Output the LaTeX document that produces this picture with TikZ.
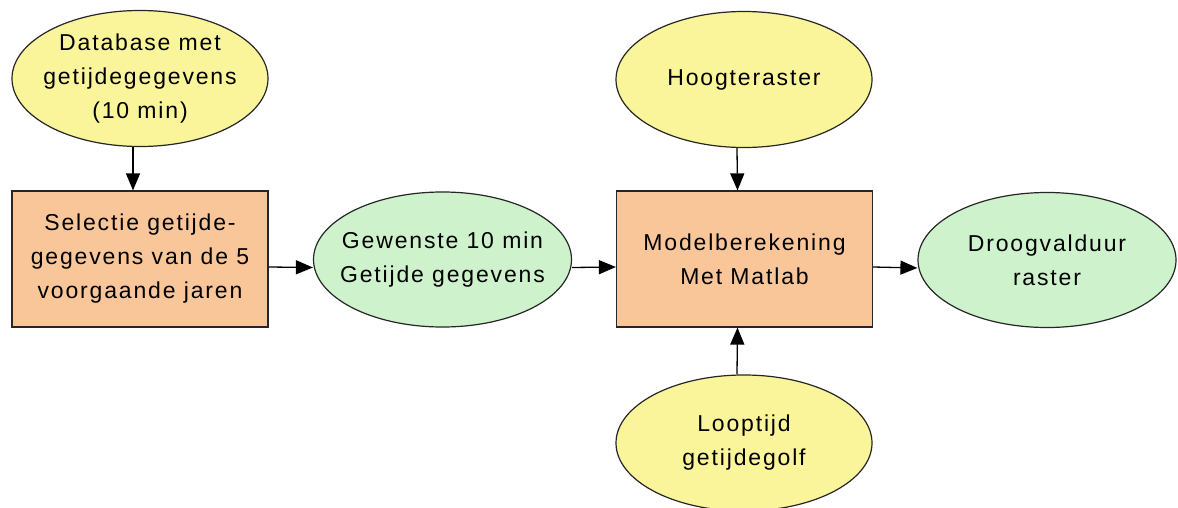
\documentclass[tikz,border=0pt]{standalone}
\usepackage{fontspec}
\setmainfont{Liberation Sans}[LetterSpace=8]
\usetikzlibrary{shapes.geometric,arrows.meta}
\definecolor{inyellow}{HTML}{FAF59A}
\definecolor{procpeach}{HTML}{F9C699}
\definecolor{outgreen}{HTML}{CDF2CC}
\tikzset{
  base/.style={draw=black!85, line width=1.2pt, align=center,
    font=\fontsize{23}{34}\selectfont, text=black},
  % negative inner sep keeps the ellipses at their fixed size around wide text
  inputdata/.style={base, ellipse, inner sep=-40pt, fill=inyellow, minimum width=256pt, minimum height=136pt},
  outdata/.style={base, ellipse, inner sep=-40pt, fill=outgreen, minimum width=258pt, minimum height=135pt},
  process/.style={base, rectangle, inner sep=0pt, fill=procpeach, minimum width=256pt, minimum height=136pt},
  flow/.style={draw=black, line width=1.3pt, -{Triangle[length=17pt,width=14pt]}}
}
\begin{document}
\begin{tikzpicture}[x=1pt,y=-1pt]
\useasboundingbox[fill=white] (0,0) rectangle (1178,508);

% inputs, processing steps and results
\node[inputdata] (db) at (140,78.5) {Database met\\getijdegegevens\\(10 min)};
\node[process] (sel) at (140,259) {Selectie getijde-\\gegevens van de 5\\voorgaande jaren};
\node[outdata] (gew) at (442.5,259.5) {Gewenste 10 min\\Getijde gegevens};
\node[process] (model) at (744.5,259) {Modelberekening\\Met Matlab};
\node[inputdata] (hoog) at (744,79.5) {Hoogteraster};
\node[inputdata] (loop) at (744,443) {Looptijd\\getijdegolf};
\node[outdata] (droog) at (1047,260) {Droogvalduur\\raster};

% data flow
\draw[flow] ([xshift=-7pt]db.south) -- ([xshift=-7pt]sel.north);
\draw[flow] ([yshift=-8pt]sel.east) -- ([yshift=-8pt]gew.west);
\draw[flow] ([yshift=-8pt]gew.east) -- ([yshift=-8pt]model.west);
\draw[flow] ([xshift=-7pt]hoog.south) -- ([xshift=-7pt]model.north);
\draw[flow] ([xshift=-7pt]loop.north) -- ([xshift=-7pt]model.south);
\draw[flow] ([yshift=-8pt]model.east) -- ([yshift=-8pt]droog.west);
\end{tikzpicture}
\end{document}
